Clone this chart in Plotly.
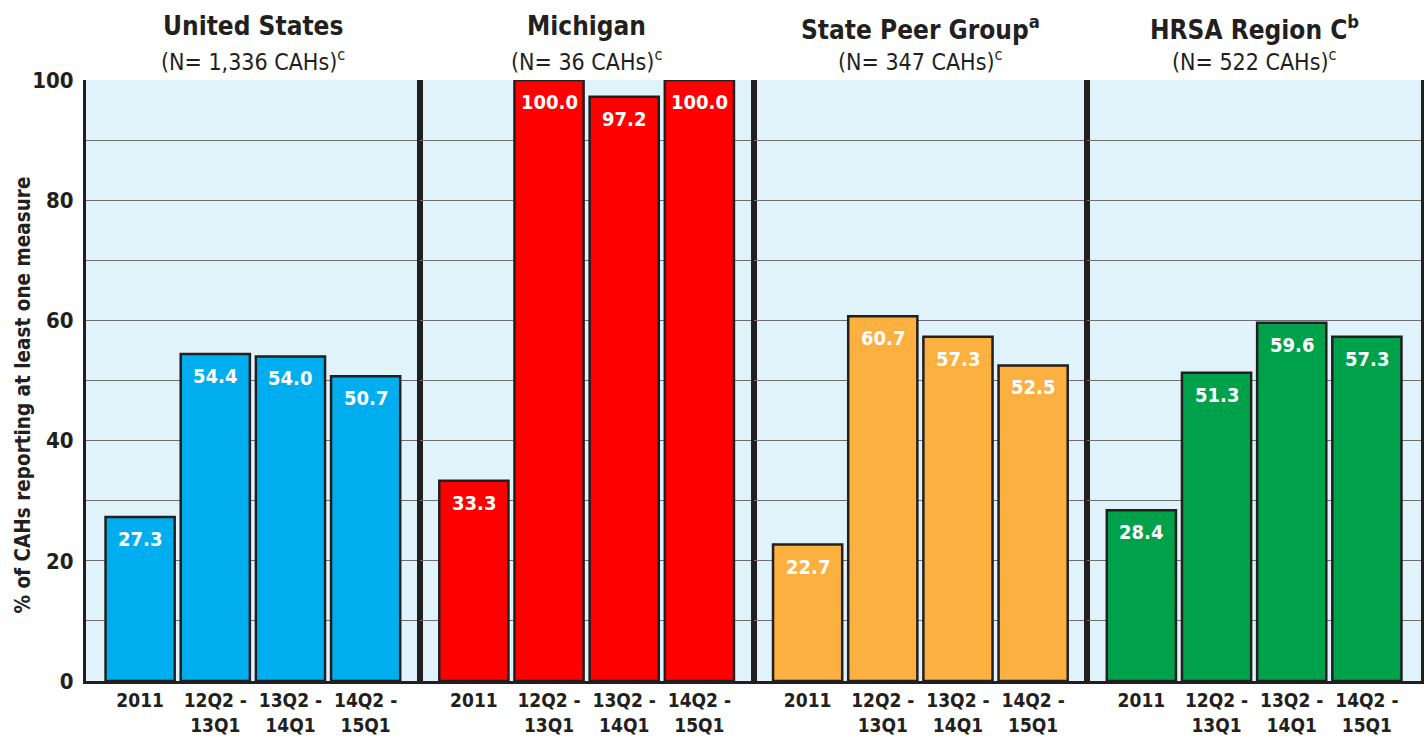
import plotly.graph_objects as go
from plotly.subplots import make_subplots

groups = ["United States", "Michigan", "State Peer Group<sup>a</sup>", "HRSA Region C<sup>b</sup>"]
subtitles = ["(N= 1,336 CAHs)<sup>c</sup>", "(N= 36 CAHs)<sup>c</sup>",
             "(N= 347 CAHs)<sup>c</sup>", "(N= 522 CAHs)<sup>c</sup>"]
periods = ["2011", "12Q2 -<br>13Q1", "13Q2 -<br>14Q1", "14Q2 -<br>15Q1"]
us_vals = [27.3, 54.4, 54.0, 50.7]
mi_vals = [33.3, 100.0, 97.2, 100.0]
peer_vals = [22.7, 60.7, 57.3, 52.5]
hrsa_vals = [28.4, 51.3, 59.6, 57.3]
colors = ["#00aeef", "#ff0000", "#fbb040", "#00a14b"]
y_ticks = [0, 20, 40, 60, 80, 100]
y_title = "% of CAHs reporting at least one measure"

FONT = "DejaVu Sans Condensed, Liberation Sans Narrow, Arial Narrow, sans-serif"
DARK = "#231f20"
GRID = "#6d6e71"

fig = make_subplots(rows=1, cols=4, shared_yaxes=True, horizontal_spacing=0)
series = [us_vals, mi_vals, peer_vals, hrsa_vals]
for i, vals in enumerate(series):
    xa = "x" if i == 0 else f"x{i + 1}"
    ya = "y" if i == 0 else f"y{i + 1}"
    fig.add_trace(go.Bar(
        x=periods, y=vals, marker=dict(color=colors[i], line=dict(color=DARK, width=2.5)),
        showlegend=False, hoverinfo="skip"), row=1, col=i + 1)
    for j, v in enumerate(vals):
        # category index j on the categorical axis
        fig.add_annotation(x=j, y=v, xref=xa, yref=ya, text="<b>%.1f</b>" % v,
                           showarrow=False, yanchor="top", yshift=-8,
                           font=dict(family=FONT, size=20, color="white"))
    fig.update_xaxes(row=1, col=i + 1, type="category", categoryorder="array",
                     categoryarray=periods, range=[-0.72, 3.72], automargin=False,
                     tickvals=periods, ticktext=["<b>" + p + "</b>" for p in periods],
                     showline=True, linecolor=DARK, linewidth=3, ticks="",
                     tickfont=dict(family=FONT, size=19, color=DARK))
    fig.add_annotation(text="<b>" + groups[i] + "</b>", xref=xa + " domain", x=0.5,
                       yref="paper", y=1.0, yshift=71, showarrow=False, yanchor="top",
                       font=dict(family=FONT, size=26, color=DARK))
    fig.add_annotation(text=subtitles[i], xref=xa + " domain", x=0.5, yref="paper", y=1.0,
                       yshift=37, showarrow=False, yanchor="top",
                       font=dict(family=FONT, size=23, color=DARK))

fig.add_annotation(text="<b>" + y_title + "</b>", xref="paper", x=0, xanchor="center",
                   xshift=-64, yref="paper", y=0.5, yanchor="middle", yshift=-15,
                   textangle=-90, showarrow=False,
                   font=dict(family=FONT, size=20.5, color=DARK))

fig.update_yaxes(range=[0, 100], tickvals=y_ticks, ticktext=["<b>%d</b>" % t for t in y_ticks],
                 showgrid=True, gridcolor=GRID, gridwidth=1, automargin=False,
                 minor=dict(dtick=10, showgrid=True, gridcolor=GRID, gridwidth=1),
                 showline=True, linecolor=DARK, linewidth=3, mirror=True, zeroline=False,
                 ticks="", ticklabelstandoff=5, tickfont=dict(family=FONT, size=22, color=DARK))

fig.update_layout(width=1426, height=740, margin=dict(l=86, r=5, t=80, b=59),
                  bargap=0.08, plot_bgcolor="#e0f3fa", paper_bgcolor="white",
                  font=dict(family=FONT, color=DARK))
fig.write_html("out.html", config={"displayModeBar": False},
               post_script="document.body.style.margin='0';document.body.style.overflow='hidden';")
